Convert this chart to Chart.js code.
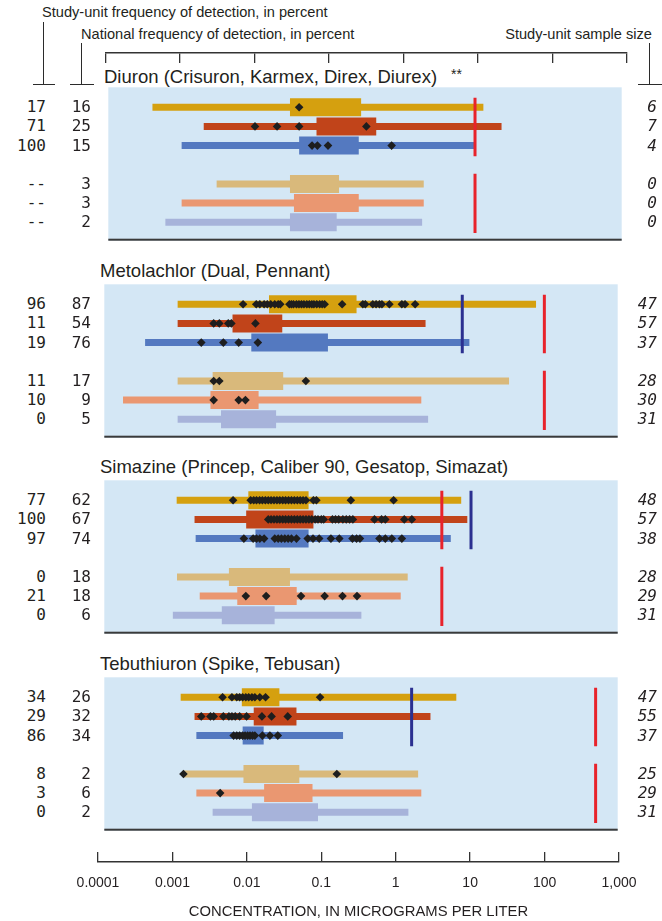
<!DOCTYPE html>
<html>
<head>
<meta charset="utf-8">
<script src="https://cdn.jsdelivr.net/npm/chart.js@4.4.0/dist/chart.umd.min.js"></script>
<style>
  html, body { margin: 0; padding: 0; background: #ffffff; }
  #wrap { position: relative; width: 662px; height: 921px; overflow: hidden;
          font-family: "Liberation Sans", Arial, sans-serif; color: #231f20; }
  canvas { position: absolute; }
  .txt { position: absolute; white-space: nowrap; font-size: 14.6px; line-height: 16px; }
  .ttl { position: absolute; white-space: nowrap; font-size: 18.5px; line-height: 22px; }
  .num { position: absolute; white-space: nowrap; font-family: "DejaVu Sans Mono", monospace;
         font-size: 16px; line-height: 16px; text-align: right; color: #231f20; }
  .it { font-style: italic; }
  .ln { position: absolute; background: #2b2b2b; }
</style>
</head>
<body>
<div id="wrap"></div>
<script>
// ---------------- axis ----------------
const tickValues = [0.0001, 0.001, 0.01, 0.1, 1, 10, 100, 1000];
const tickLabels = ['0.0001', '0.001', '0.01', '0.1', '1', '10', '100', '1,000'];
const axisTitle = 'CONCENTRATION, IN MICROGRAMS PER LITER';
const headerStudy = 'Study-unit frequency of detection, in percent';
const headerNational = 'National frequency of detection, in percent';
const headerSize = 'Study-unit sample size';

// ---------------- compounds ----------------
const panelTitles = ['Diuron (Crisuron, Karmex, Direx, Diurex)', 'Metolachlor (Dual, Pennant)',
  'Simazine (Princep, Caliber 90, Gesatop, Simazat)', 'Tebuthiuron (Spike, Tebusan)'];
const panelNotes = ['**', '', '', ''];

// row order: 3 study-unit rows, gap, 3 national rows
const rowSlots = [0, 1, 2, 4, 5, 6];
const rowColors = ['#D5A00F', '#C1441A', '#5479C0', '#D9B97B', '#EA9771', '#A7B3DA'];

// Diuron
const diuronStudyFreq = ['17', '71', '100', '--', '--', '--'];
const diuronNationalFreq = ['16', '25', '15', '3', '3', '2'];
const diuronSampleSize = ['6', '7', '4', '0', '0', '0'];
const diuronMin = [0.0004, 0.002, 0.001, 0.003, 0.001, 0.0006];
const diuronMax = [13, 23, 10, 2.0, 2.0, 1.9];
const diuronP25 = [0.030, 0.069, 0.040, 0.030, 0.034, 0.030];
const diuronP75 = [0.28, 0.45, 0.26, 0.14, 0.26, 0.13];
const diuronDetections = [[0.040], [0.010, 0.020, 0.040, 0.33], [0.060, 0.071, 0.099, 0.73], [], [], []];
const diuronRedBenchmark = 10;
const diuronBlueBenchmark = null;

// Metolachlor
const metolachlorStudyFreq = ['96', '11', '19', '11', '10', '0'];
const metolachlorNationalFreq = ['87', '54', '76', '17', '9', '5'];
const metolachlorSampleSize = ['47', '57', '37', '28', '30', '31'];
const metolachlorMin = [0.001, 0.001, 0.00036, 0.001, 0.00018, 0.001];
const metolachlorMax = [77, 2.4, 9.5, 33, 2.1, 2.6];
const metolachlorP25 = [0.0176, 0.0056, 0.0101, 0.0030, 0.0028, 0.0039];
const metolachlorP75 = [0.275, 0.0267, 0.112, 0.0275, 0.0127, 0.022];
const metolachlorDetections = [
  [0.0078, 0.0118, 0.0132, 0.0151, 0.0167, 0.0186, 0.0211, 0.0235, 0.0251, 0.0334, 0.0356, 0.038,
   0.0417, 0.0451, 0.0488, 0.0527, 0.0577, 0.0624, 0.0675, 0.0721, 0.0789, 0.0865, 0.0935, 0.101,
   0.175, 0.335, 0.362, 0.458, 0.508, 0.564, 0.61, 0.771, 1.14, 1.26, 1.73],
  [0.0031, 0.0037, 0.0049, 0.0054, 0.0115],
  [0.0021, 0.0042, 0.0068, 0.0124],
  [0.0031, 0.0037, 0.056],
  [0.0031, 0.0068, 0.0084],
  []
];
const metolachlorRedBenchmark = 100;
const metolachlorBlueBenchmark = 7.6;

// Simazine
const simazineStudyFreq = ['77', '100', '97', '0', '21', '0'];
const simazineNationalFreq = ['62', '67', '74', '18', '18', '6'];
const simazineSampleSize = ['48', '57', '38', '28', '29', '31'];
const simazineMin = [0.00097, 0.0017, 0.00176, 0.00098, 0.0020, 0.00086];
const simazineMax = [7.35, 8.9, 5.3, 1.37, 1.1, 0.32];
const simazineP25 = [0.0092, 0.0086, 0.0115, 0.0050, 0.0065, 0.0040];
const simazineP75 = [0.061, 0.071, 0.061, 0.034, 0.042, 0.021];
const simazineDetections = [
  [0.0057, 0.0099, 0.0109, 0.0119, 0.0131, 0.0143, 0.0157, 0.0172, 0.0188, 0.0206, 0.0226, 0.0247,
   0.0271, 0.0296, 0.0325, 0.0356, 0.039, 0.0428, 0.0469, 0.0513, 0.0562, 0.071, 0.078, 0.23, 0.88],
  [0.0172, 0.0188, 0.0206, 0.0226, 0.0247, 0.0271, 0.0296, 0.0325, 0.0356, 0.039, 0.0428, 0.0469,
   0.0513, 0.0562, 0.0616, 0.0675, 0.075, 0.082, 0.091, 0.098, 0.129, 0.142, 0.157, 0.179, 0.199,
   0.221, 0.245, 0.483, 0.603, 0.678, 1.23, 1.56],
  [0.008, 0.0107, 0.0119, 0.0132, 0.0151, 0.0211, 0.0235, 0.026, 0.0289, 0.0321, 0.0356, 0.0417,
   0.0593, 0.0701, 0.0851, 0.123, 0.16, 0.242, 0.275, 0.306, 0.564, 0.678, 0.832, 1.14],
  [],
  [0.0085, 0.0161, 0.0481, 0.101, 0.177, 0.279],
  []
];
const simazineRedBenchmark = 4;
const simazineBlueBenchmark = 10;

// Tebuthiuron
const tebuthiuronStudyFreq = ['34', '29', '86', '8', '3', '0'];
const tebuthiuronNationalFreq = ['26', '32', '34', '2', '6', '2'];
const tebuthiuronSampleSize = ['47', '55', '37', '25', '29', '31'];
const tebuthiuronMin = [0.0011, 0.0017, 0.0018, 0.0012, 0.0018, 0.0030];
const tebuthiuronMax = [6.3, 2.8, 0.18, 1.9, 2.1, 1.4];
const tebuthiuronP25 = [0.0075, 0.0109, 0.0077, 0.0079, 0.0151, 0.0103];
const tebuthiuronP75 = [0.0244, 0.0417, 0.0149, 0.0456, 0.069, 0.082];
const tebuthiuronDetections = [
  [0.0041, 0.0055, 0.0064, 0.0070, 0.0077, 0.0085, 0.0093, 0.0103, 0.0113, 0.0132, 0.0158, 0.0875],
  [0.0021, 0.0028, 0.0031, 0.0042, 0.0050, 0.0055, 0.0061, 0.0070, 0.0087, 0.0141, 0.0191, 0.0317],
  [0.0058, 0.0064, 0.0070, 0.0077, 0.0083, 0.0090, 0.0097, 0.0105, 0.0113, 0.0143, 0.0181, 0.0232],
  [0.0012, 0.148],
  [0.0038],
  []
];
const tebuthiuronRedBenchmark = 500;
const tebuthiuronBlueBenchmark = 1.55;

// ---------------- assemble ----------------
const panels = [
  { study: diuronStudyFreq, national: diuronNationalFreq, size: diuronSampleSize, min: diuronMin, max: diuronMax,
    p25: diuronP25, p75: diuronP75, det: diuronDetections, red: diuronRedBenchmark, blue: diuronBlueBenchmark },
  { study: metolachlorStudyFreq, national: metolachlorNationalFreq, size: metolachlorSampleSize, min: metolachlorMin, max: metolachlorMax,
    p25: metolachlorP25, p75: metolachlorP75, det: metolachlorDetections, red: metolachlorRedBenchmark, blue: metolachlorBlueBenchmark },
  { study: simazineStudyFreq, national: simazineNationalFreq, size: simazineSampleSize, min: simazineMin, max: simazineMax,
    p25: simazineP25, p75: simazineP75, det: simazineDetections, red: simazineRedBenchmark, blue: simazineBlueBenchmark },
  { study: tebuthiuronStudyFreq, national: tebuthiuronNationalFreq, size: tebuthiuronSampleSize, min: tebuthiuronMin, max: tebuthiuronMax,
    p25: tebuthiuronP25, p75: tebuthiuronP75, det: tebuthiuronDetections, red: tebuthiuronRedBenchmark, blue: tebuthiuronBlueBenchmark }
];

// layout (pixels)
const panelLayout = [{ left: 104, top: 83 }, { left: 100, top: 280 }, { left: 100, top: 476 }, { left: 100, top: 673 }];
const PANEL_W = 522, PANEL_H = 162;
const groupSpans = [[-0.5, 2.55], [3.47, 6.56]];
const RED = '#E8232B', BLUE = '#2B3090', DIAMOND = '#1e1e1e', PANEL_BG = '#D4E7F5', INK = '#231f20';

const wrap = document.getElementById('wrap');

function addDiv(cls, text, style) {
  const d = document.createElement('div');
  d.className = cls;
  if (text !== null) d.textContent = text;
  Object.assign(d.style, style);
  wrap.appendChild(d);
  return d;
}
function addCanvas(left, top, w, h) {
  const c = document.createElement('canvas');
  c.width = w; c.height = h;
  c.style.left = left + 'px'; c.style.top = top + 'px';
  c.style.width = w + 'px'; c.style.height = h + 'px';
  wrap.appendChild(c);
  return c;
}

// header texts and brackets
addDiv('txt', headerStudy, { left: '42px', top: '4px' });
addDiv('txt', headerNational, { left: '81px', top: '26px' });
addDiv('txt', headerSize, { right: '10px', top: '26px' });
addDiv('ln', null, { left: '43px', top: '22px', width: '1.3px', height: '63px' });
addDiv('ln', null, { left: '33px', top: '84px', width: '22px', height: '1.3px' });
addDiv('ln', null, { left: '80.5px', top: '43px', width: '1.3px', height: '42px' });
addDiv('ln', null, { left: '70px', top: '84px', width: '24px', height: '1.3px' });
addDiv('ln', null, { left: '648.5px', top: '43px', width: '1.3px', height: '42px' });
addDiv('ln', null, { left: '638px', top: '84px', width: '24px', height: '1.3px' });

const panelBackground = {
  id: 'panelBackground',
  beforeDraw(chart) {
    const { ctx, chartArea: a } = chart;
    ctx.save();
    ctx.fillStyle = PANEL_BG;
    ctx.fillRect(a.left, a.top, a.right - a.left, a.bottom - a.top);
    ctx.fillStyle = '#3a3a3a';
    ctx.fillRect(a.left, a.bottom - 2, a.right - a.left, 2);
    ctx.restore();
  }
};

function buildDatasets(d) {
  const ds = [];
  rowSlots.forEach((slot, i) => {
    ds.push({ data: [{ x: d.min[i], y: slot }, { x: d.max[i], y: slot }], showLine: true,
      borderColor: rowColors[i], borderWidth: 7, borderCapStyle: 'butt', pointRadius: 0, order: 4 });
    ds.push({ data: [{ x: d.p25[i], y: slot }, { x: d.p75[i], y: slot }], showLine: true,
      borderColor: rowColors[i], borderWidth: 18, borderCapStyle: 'butt', pointRadius: 0, order: 3 });
    if (d.det[i].length) {
      ds.push({ data: d.det[i].map(v => ({ x: v, y: slot })), showLine: false, pointStyle: 'rectRot',
        pointRadius: 4.3, backgroundColor: DIAMOND, borderWidth: 0, order: 1 });
    }
  });
  groupSpans.forEach(([a, b]) => {
    ds.push({ data: [{ x: d.red, y: a }, { x: d.red, y: b }], showLine: true, borderColor: RED,
      borderWidth: 3, borderCapStyle: 'butt', pointRadius: 0, order: 2 });
  });
  if (d.blue !== null) {
    const [a, b] = groupSpans[0];
    ds.push({ data: [{ x: d.blue, y: a }, { x: d.blue, y: b }], showLine: true, borderColor: BLUE,
      borderWidth: 3, borderCapStyle: 'butt', pointRadius: 0, order: 2 });
  }
  return ds;
}

panels.forEach((d, p) => {
  const L = panelLayout[p];
  // title
  const t = addDiv('ttl', panelTitles[p], { left: L.left + 'px', top: (L.top - 20) + 'px' });
  if (panelNotes[p]) {
    const s = document.createElement('span');
    s.textContent = panelNotes[p];
    s.style.marginLeft = '14px';
    s.style.fontSize = '14px';
    s.style.verticalAlign = '4px';
    t.appendChild(s);
  }
  const cv = addCanvas(L.left, L.top, PANEL_W, PANEL_H);
  const chart = new Chart(cv, {
    type: 'scatter',
    data: { datasets: buildDatasets(d) },
    options: {
      responsive: false, animation: false, events: [],
      layout: { padding: 0 },
      plugins: { legend: { display: false }, tooltip: { enabled: false } },
      scales: {
        x: { type: 'logarithmic', min: 0.0001, max: 1000, display: false },
        y: { type: 'linear', min: -1.04, max: 6.96, reverse: true, display: false }
      }
    },
    plugins: [panelBackground]
  });
  rowSlots.forEach((slot, i) => {
    const y = L.top + chart.scales.y.getPixelForValue(slot) - 8;
    addDiv('num', d.study[i], { left: '0px', width: '46px', top: y + 'px' });
    addDiv('num', d.national[i], { left: '0px', width: '91px', top: y + 'px' });
    addDiv('num it', d.size[i], { left: '600px', width: '57px', top: y + 'px' });
  });
});

// top axis (ticks only)
const topCanvas = addCanvas(0, 43, 662, 30);
new Chart(topCanvas, {
  type: 'scatter',
  data: { datasets: [] },
  options: {
    responsive: false, animation: false, events: [],
    layout: { padding: { left: 105.5, right: 35, top: 0, bottom: 10 } },
    plugins: { legend: { display: false }, tooltip: { enabled: false } },
    scales: {
      x: {
        type: 'logarithmic', position: 'top', min: 0.0001, max: 1000,
        afterBuildTicks: (axis) => { axis.ticks = tickValues.map(v => ({ value: v })); },
        afterFit: (axis) => { axis.height = 10; },
        ticks: { display: false },
        grid: { display: true, drawOnChartArea: true, drawTicks: false, color: '#333', lineWidth: 1.3 },
        border: { display: true, color: '#333', width: 1.5 }
      },
      y: { display: false, min: 0, max: 1 }
    }
  }
});

// bottom axis
const botCanvas = addCanvas(0, 842, 662, 79);
new Chart(botCanvas, {
  type: 'scatter',
  data: { datasets: [] },
  options: {
    responsive: false, animation: false, events: [],
    layout: { padding: { left: 98, right: 43, top: 10, bottom: 0 } },
    plugins: { legend: { display: false }, tooltip: { enabled: false } },
    scales: {
      x: {
        type: 'logarithmic', position: 'bottom', min: 0.0001, max: 1000,
        afterBuildTicks: (axis) => { axis.ticks = tickValues.map(v => ({ value: v })); },
        afterFit: (axis) => { axis.height = 59; },
        ticks: {
          autoSkip: false, maxRotation: 0, minRotation: 0, padding: 13, color: INK,
          font: { family: '"Liberation Sans", Arial, sans-serif', size: 14 },
          callback: (value, index) => tickLabels[index]
        },
        grid: { display: true, drawOnChartArea: true, drawTicks: false, color: '#333', lineWidth: 1.3 },
        border: { display: true, color: '#333', width: 1.5 },
        title: {
          display: true, text: axisTitle, color: INK, padding: { top: 0, bottom: 0 },
          font: { family: '"Liberation Sans", Arial, sans-serif', size: 14.8 }
        }
      },
      y: { display: false, min: 0, max: 1 }
    }
  }
});
</script>
</body>
</html>
